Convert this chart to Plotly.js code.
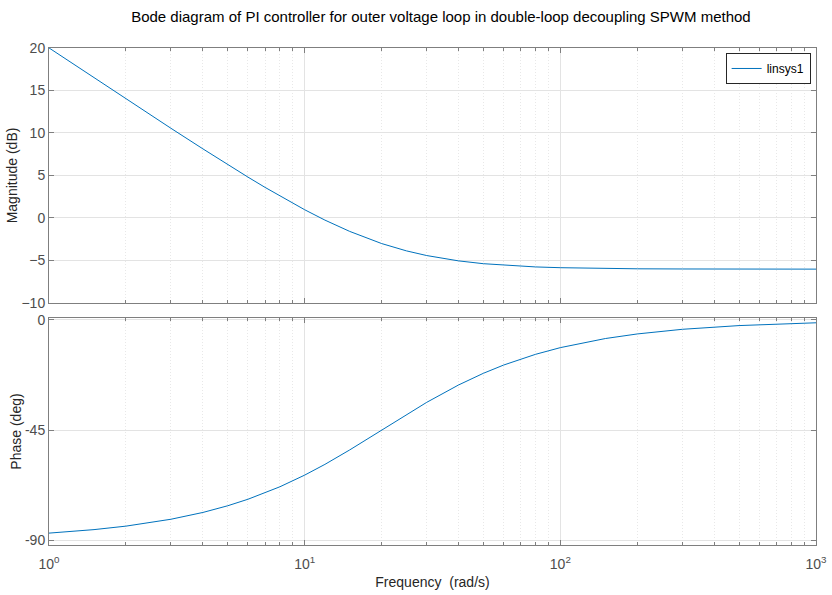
<!DOCTYPE html>
<html><head><meta charset="utf-8">
<script src="https://cdn.plot.ly/plotly-3.0.1.min.js"></script>
<style>html,body{margin:0;padding:0;background:#fff}#plot{width:832px;height:595px}</style>
</head><body><div id="plot"></div>
<script>
const freq = [1, 1.2, 1.5, 2, 2.5, 3, 4, 5, 6, 7, 8, 10, 12, 15, 20, 25, 30, 40, 50, 60, 70, 80, 100, 150, 200, 300, 500, 700, 1000];
const magDb = [20.01, 18.43, 16.50, 14.02, 12.11, 10.55, 8.13, 6.28, 4.81, 3.60, 2.58, 0.97, -0.25, -1.58, -3.01, -3.87, -4.42, -5.05, -5.38, -5.56, -5.68, -5.76, -5.85, -5.94, -5.98, -6.00, -6.01, -6.02, -6.02];
const phaseDeg = [-87.14, -86.57, -85.71, -84.29, -82.87, -81.47, -78.69, -75.96, -73.30, -70.71, -68.20, -63.43, -59.04, -53.13, -45.00, -38.66, -33.69, -26.57, -21.80, -18.43, -15.95, -14.04, -11.31, -7.59, -5.71, -3.81, -2.29, -1.64, -1.15];
const xTickVals = [1, 10, 100, 1000];
const xTickText = ['10<sup>0</sup>', '10<sup>1</sup>', '10<sup>2</sup>', '10<sup>3</sup>'];
const xMinorVals = [2,3,4,5,6,7,8,9,20,30,40,50,60,70,80,90,200,300,400,500,600,700,800,900];
const magTicks = [-10, -5, 0, 5, 10, 15, 20];
const phaseTicks = [-90, -45, 0];
const phaseTickText = ['-90', '-45', '0'];
const seriesName = 'linsys1';

const lineColor = '#0072BD';
const axisColor = '#7f7f7f';
const tickFontColor = '#4d4d4d';
const font = 'Liberation Sans, Arial, sans-serif';

const traces = [
  {x: freq, y: magDb, type: 'scatter', mode: 'lines', name: seriesName, line: {color: lineColor, width: 1}, xaxis: 'x', yaxis: 'y', showlegend: true},
  {x: freq, y: phaseDeg, type: 'scatter', mode: 'lines', name: seriesName, line: {color: lineColor, width: 1}, xaxis: 'x2', yaxis: 'y2', showlegend: false}
];

const xBase = {
  type: 'log', range: [0, 3], showline: true, linecolor: axisColor, linewidth: 1, mirror: 'ticks',
  ticks: 'inside', ticklen: 5, tickcolor: axisColor,
  showgrid: true, gridcolor: '#e3e3e3', gridwidth: 1,
  minor: {showgrid: true, gridcolor: '#e8e8e8', griddash: '1px,2px', ticks: 'inside', ticklen: 3, tickcolor: axisColor, tickvals: xMinorVals},
  tickvals: xTickVals, ticktext: xTickText, zeroline: false,
  tickfont: {family: font, size: 14, color: tickFontColor}
};

const layout = {
  width: 832, height: 595,
  margin: {l: 49, r: 16, t: 48, b: 50},
  paper_bgcolor: '#fff', plot_bgcolor: '#fff',
  font: {family: font, size: 12, color: '#262626'},
  title: {text: 'Bode diagram of PI controller for outer voltage loop in double-loop decoupling SPWM method', font: {family: font, size: 15, color: '#000'}, x: 0.511, xref: 'paper', xanchor: 'center', y: 0.972, yref: 'container', yanchor: 'middle'},
  xaxis: Object.assign({}, xBase, {anchor: 'y', showticklabels: false, matches: 'x2'}),
  xaxis2: Object.assign({}, xBase, {anchor: 'y2', showticklabels: true, ticklabelstandoff: 6,
    title: {text: 'Frequency  (rad/s)', font: {family: font, size: 14, color: '#262626'}, standoff: 6}}),
  yaxis: {domain: [0.487, 1], range: [-10, 20], tickvals: magTicks, showline: true, linecolor: axisColor, mirror: 'ticks',
    ticks: 'inside', ticklen: 5, tickcolor: axisColor, showgrid: true, gridcolor: '#e3e3e3', zeroline: false,
    tickfont: {family: font, size: 14, color: tickFontColor},
    title: {text: 'Magnitude (dB)', font: {family: font, size: 14, color: '#262626'}, standoff: 0}},
  yaxis2: {domain: [0, 0.4567], range: [-92, 0.8], tickvals: phaseTicks, ticktext: phaseTickText, showline: true, linecolor: axisColor, mirror: 'ticks',
    ticks: 'inside', ticklen: 5, tickcolor: axisColor, showgrid: true, gridcolor: '#e3e3e3', zeroline: false,
    tickfont: {family: font, size: 14, color: tickFontColor},
    title: {text: 'Phase (deg)', font: {family: font, size: 14, color: '#262626'}, standoff: 0}},
  showlegend: true,
  legend: {x: 0.993, y: 0.99, xanchor: 'right', yanchor: 'top', bgcolor: '#fff', bordercolor: '#262626', borderwidth: 1,
    font: {family: font, size: 12, color: '#000'}, tracegroupgap: 0, itemwidth: 30}
};

Plotly.newPlot('plot', traces, layout, {displayModeBar: false, staticPlot: true});
</script></body></html>
